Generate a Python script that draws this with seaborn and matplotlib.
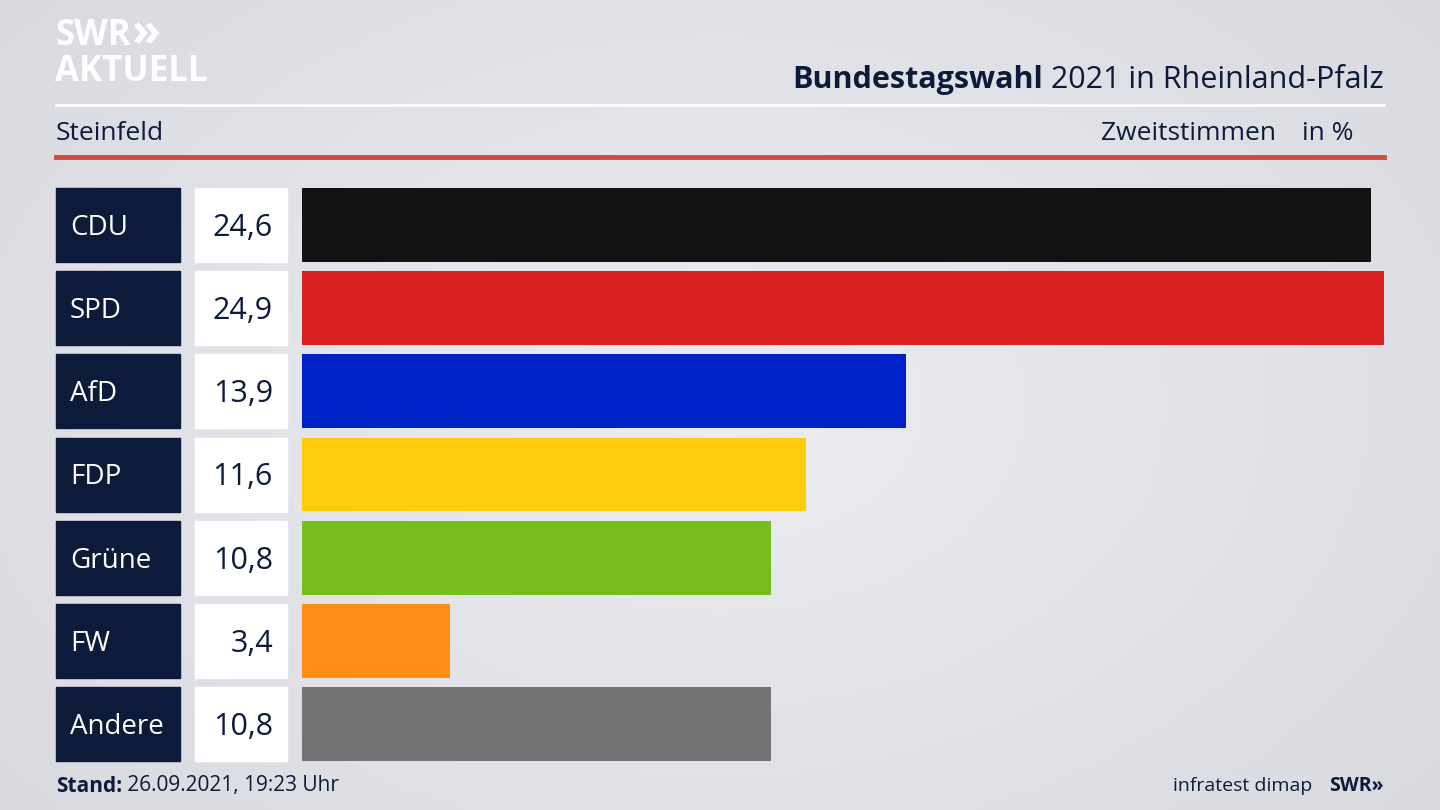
import matplotlib
matplotlib.use("Agg")
import matplotlib.pyplot as plt
import seaborn as sns
import pandas as pd
import numpy as np
from matplotlib.patches import Rectangle

parties = ["CDU", "SPD", "AfD", "FDP", "Grüne", "FW", "Andere"]
values = [24.6, 24.9, 13.9, 11.6, 10.8, 3.4, 10.8]
value_labels = ["24,6", "24,9", "13,9", "11,6", "10,8", "3,4", "10,8"]
colors = ["#121212", "#d92121", "#0020c8", "#fecc0a", "#78bd1e", "#fe8c16", "#737375"]

W, H = 1440, 810
plt.rcParams["font.family"] = "Open Sans"
navy = "#0d1b3b"
fig = plt.figure(figsize=(W/100, H/100), dpi=100)

# background gradient (slightly bluish grey)
bg = fig.add_axes([0, 0, 1, 1])
yy, xx = np.mgrid[0:1:200j, 0:1:200j]
d = np.clip(np.sqrt(((xx-0.5)*1.2)**2 + ((yy-0.5))**2), 0, 1)
c0 = np.array([0.925, 0.93, 0.945]); c1 = np.array([0.83, 0.835, 0.86])
img = c0[None, None, :] * (1 - d[..., None]) + c1[None, None, :] * d[..., None]
bg.imshow(np.clip(img, 0, 1), aspect="auto", extent=[0, 1, 0, 1])
bg.set_xlim(0, 1); bg.set_ylim(0, 1); bg.axis("off")

def fx(px): return px / W
def fy(py): return 1 - py / H

top, bot = 188, 761
ax = fig.add_axes([fx(302), fy(bot), fx(1384) - fx(302), (bot - top) / H])
df = pd.DataFrame({"party": parties, "value": values})
sns.barplot(data=df, x="value", y="party", hue="party", palette=colors, dodge=False,
            width=74/83.3, legend=False, ax=ax, saturation=1, linewidth=0)
ax.set_xlim(0, 24.9)
ax.set_ylim(6 + 74/83.3/2, -74/83.3/2)
ax.axis("off")
ax.patch.set_alpha(0)

pitch = (bot - top - 74) / 6
for i, (p, vl) in enumerate(zip(parties, value_labels)):
    y0 = top + i * pitch
    fig.patches.append(Rectangle((fx(56), fy(y0 + 74)), fx(124), 74/H, transform=fig.transFigure, color=navy))
    fig.patches.append(Rectangle((fx(195), fy(y0 + 74)), fx(92), 74/H, transform=fig.transFigure, color="white"))
    fig.text(fx(70), fy(y0 + 40), p, color="white", fontsize=20, va="center", ha="left")
    fig.text(fx(273), fy(y0 + 40), vl, color=navy, fontsize=22, va="center", ha="right")

# header
fig.text(fx(55), fy(36), "SWR", color="white", fontsize=25, fontweight="bold", va="center")
fig.text(fx(131), fy(34), "»", color="white", fontsize=34, fontweight="bold", va="center")
fig.text(fx(55), fy(72), "AKTUELL", color="white", fontsize=25, fontweight="bold", va="center")
t2 = fig.text(fx(1384), fy(80), " 2021 in Rheinland-Pfalz", color=navy, fontsize=22, ha="right", va="center")
fig.canvas.draw()
bb = t2.get_window_extent()
fig.text(bb.x0 / W, fy(80), "Bundestagswahl", color=navy, fontsize=22, fontweight="bold", ha="right", va="center")
fig.add_artist(plt.Line2D([fx(56), fx(1384)], [fy(105), fy(105)], color="white", lw=2, transform=fig.transFigure))
fig.text(fx(56), fy(134), "Steinfeld", color=navy, fontsize=19, va="center")
fig.text(fx(1276), fy(134), "Zweitstimmen", color=navy, fontsize=19, va="center", ha="right")
fig.text(fx(1354), fy(134), "in %", color=navy, fontsize=19, va="center", ha="right")
fig.add_artist(plt.Line2D([fx(56), fx(1384)], [fy(157), fy(157)], color="#d6483e", lw=3.5, transform=fig.transFigure))

# footer
t3 = fig.text(fx(56), fy(786), "Stand:", color=navy, fontsize=15, fontweight="bold", va="center")
fig.canvas.draw()
bb = t3.get_window_extent()
fig.text(bb.x1 / W, fy(786), " 26.09.2021, 19:23 Uhr", color=navy, fontsize=15, va="center")
fig.text(fx(1312), fy(786), "infratest dimap", color=navy, fontsize=14, va="center", ha="right")
fig.text(fx(1384), fy(786), "SWR»", color=navy, fontsize=14, fontweight="bold", va="center", ha="right")

fig.savefig("out.png", dpi=100)
